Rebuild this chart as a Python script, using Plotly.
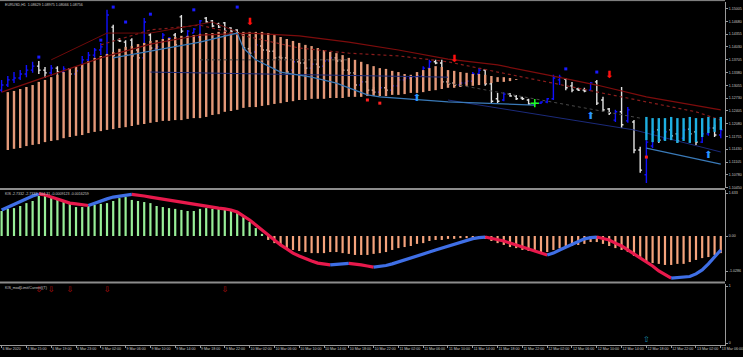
import plotly.graph_objects as go

W, H = 743, 357

# ---------------- data ----------------
bars = list(range(117))
opens = [1.1293,1.1306,1.1319,1.1324,1.1334,1.1344,1.1354,1.1344,1.1337,1.1349,
         1.1339,1.1347,1.1334,1.1349,1.1370,1.1382,1.1395,1.1382,1.1453,1.1420,
         1.1415,1.1420,1.1395,1.1375,1.1433,1.1398,1.1415,1.1418,1.1433,1.1479,
         1.1428,1.1438,1.1428,1.1476,1.1469,1.1461,1.1464,1.1451,1.1446,1.1436,
         1.1398,1.1390,1.1405,1.1395,1.1392,1.1377,1.1375,1.1344,1.1365,1.1362,
         1.1349,1.1359,1.1354,1.1367,1.1375,1.1367,1.1344,1.1337,1.1306,1.1314,
         1.1293,1.1288,1.1299,1.1293,1.1304,1.1319,1.1324,1.1326,1.1329,1.1349,
         1.1365,1.1362,1.1314,1.1311,1.1306,1.1311,1.1316,1.1334,1.1344,1.1309,
         1.1271,1.1268,1.1283,1.1278,1.1273,1.1268,1.1258,1.1260,1.1263,1.1271,
         1.1319,1.1321,1.1304,1.1296,1.1293,1.1293,1.1314,1.1268,1.1245,1.1217,
         1.1238,1.1215,1.1212,1.1141,1.1078,1.1151,1.1192,1.1169,1.1192,1.1182,
         1.1171,1.1194,1.1187,1.1161,1.1182,1.1197,1.1179]
highs = [1.1319,1.1329,1.1339,1.1344,1.1357,1.1365,1.1367,1.1352,1.1357,1.1354,
         1.1354,1.1349,1.1349,1.1380,1.1390,1.1400,1.1413,1.1497,1.1459,1.1425,
         1.1420,1.1425,1.1403,1.1476,1.1438,1.1405,1.1438,1.1428,1.1438,1.1484,
         1.1446,1.1451,1.1471,1.1479,1.1471,1.1464,1.1466,1.1453,1.1448,1.1438,
         1.1403,1.1410,1.1413,1.1400,1.1398,1.1382,1.1380,1.1370,1.1370,1.1365,
         1.1362,1.1365,1.1370,1.1377,1.1377,1.1370,1.1347,1.1339,1.1319,1.1316,
         1.1301,1.1304,1.1304,1.1306,1.1324,1.1326,1.1329,1.1332,1.1354,1.1370,
         1.1370,1.1370,1.1319,1.1316,1.1314,1.1319,1.1339,1.1349,1.1347,1.1311,
         1.1286,1.1288,1.1286,1.1281,1.1276,1.1271,1.1263,1.1265,1.1273,1.1332,
         1.1332,1.1324,1.1314,1.1299,1.1299,1.1314,1.1319,1.1276,1.1248,1.1243,
         1.1301,1.1250,1.1217,1.1149,1.1166,1.1197,1.1197,1.1192,1.1197,1.1184,
         1.1197,1.1197,1.1192,1.1187,1.1205,1.1205,1.1197]
lows = [1.1288,1.1301,1.1311,1.1319,1.1326,1.1337,1.1334,1.1324,1.1329,1.1332,
        1.1334,1.1326,1.1329,1.1344,1.1367,1.1375,1.1382,1.1370,1.1370,1.1415,
        1.1377,1.1375,1.1370,1.1370,1.1395,1.1395,1.1413,1.1415,1.1403,1.1438,
        1.1425,1.1438,1.1425,1.1464,1.1453,1.1451,1.1441,1.1441,1.1438,1.1395,
        1.1382,1.1387,1.1390,1.1390,1.1372,1.1370,1.1337,1.1342,1.1357,1.1347,
        1.1347,1.1349,1.1352,1.1365,1.1365,1.1342,1.1334,1.1301,1.1304,1.1288,
        1.1283,1.1286,1.1291,1.1291,1.1301,1.1314,1.1321,1.1321,1.1326,1.1347,
        1.1359,1.1306,1.1304,1.1304,1.1301,1.1309,1.1314,1.1332,1.1304,1.1260,
        1.1260,1.1265,1.1276,1.1268,1.1268,1.1255,1.1255,1.1258,1.1260,1.1268,
        1.1306,1.1293,1.1288,1.1291,1.1288,1.1293,1.1255,1.1238,1.1230,1.1212,
        1.1197,1.1210,1.1133,1.1083,1.1057,1.1146,1.1159,1.1166,1.1171,1.1159,
        1.1171,1.1179,1.1154,1.1159,1.1177,1.1174,1.1171]
closes = [1.1306,1.1319,1.1324,1.1334,1.1344,1.1354,1.1344,1.1337,1.1349,1.1339,
          1.1347,1.1334,1.1342,1.1370,1.1382,1.1395,1.1403,1.1484,1.1382,1.1418,
          1.1382,1.1380,1.1375,1.1466,1.1400,1.1403,1.1433,1.1425,1.1408,1.1443,
          1.1443,1.1448,1.1469,1.1466,1.1456,1.1453,1.1443,1.1443,1.1438,1.1400,
          1.1387,1.1408,1.1395,1.1392,1.1375,1.1375,1.1339,1.1365,1.1362,1.1349,
          1.1359,1.1352,1.1367,1.1375,1.1367,1.1344,1.1337,1.1306,1.1314,1.1293,
          1.1288,1.1299,1.1293,1.1304,1.1319,1.1324,1.1326,1.1329,1.1349,1.1365,
          1.1362,1.1314,1.1309,1.1306,1.1311,1.1316,1.1334,1.1344,1.1309,1.1265,
          1.1265,1.1283,1.1278,1.1271,1.1271,1.1258,1.1260,1.1263,1.1271,1.1324,
          1.1326,1.1299,1.1293,1.1293,1.1291,1.1311,1.1260,1.1243,1.1235,1.1238,
          1.1205,1.1243,1.1141,1.1090,1.1161,1.1187,1.1166,1.1187,1.1177,1.1164,
          1.1192,1.1182,1.1161,1.1182,1.1197,1.1179,1.1192]

# salmon histogram between two averages (bars 1..83)
hist_bars = list(range(1, 84))
hist_top = [1.1288,1.1291,1.1296,1.1301,1.1306,1.1314,1.1319,1.1326,1.1332,1.1339,
            1.1347,1.1352,1.1359,1.1367,1.1375,1.1380,1.1385,1.1390,1.1398,1.1403,
            1.1405,1.1410,1.1413,1.1418,1.1420,1.1423,1.1425,1.1428,1.1431,1.1431,
            1.1433,1.1436,1.1438,1.1438,1.1441,1.1441,1.1441,1.1441,1.1441,1.1441,
            1.1441,1.1441,1.1438,1.1433,1.1428,1.1423,1.1418,1.1413,1.1408,1.1405,
            1.1400,1.1395,1.1390,1.1387,1.1382,1.1375,1.1370,1.1365,1.1359,1.1354,
            1.1349,1.1347,1.1342,1.1339,1.1334,1.1332,1.1339,1.1344,1.1349,1.1354,
            1.1352,1.1344,1.1342,1.1339,1.1337,1.1334,1.1334,1.1332,1.1329,1.1326,
            1.1326,1.1324,1.1321]
hist_bot = [1.1141,1.1144,1.1146,1.1151,1.1154,1.1156,1.1161,1.1164,1.1166,1.1171,
            1.1174,1.1177,1.1179,1.1184,1.1187,1.1189,1.1192,1.1194,1.1197,1.1199,
            1.1202,1.1205,1.1207,1.1210,1.1212,1.1215,1.1215,1.1217,1.1217,1.1220,
            1.1222,1.1222,1.1225,1.1230,1.1232,1.1238,1.1240,1.1243,1.1248,1.1250,
            1.1250,1.1253,1.1255,1.1258,1.1260,1.1263,1.1265,1.1268,1.1268,1.1271,
            1.1271,1.1271,1.1273,1.1273,1.1273,1.1276,1.1276,1.1276,1.1278,1.1278,
            1.1278,1.1278,1.1281,1.1281,1.1283,1.1286,1.1286,1.1288,1.1291,1.1293,
            1.1296,1.1299,1.1299,1.1301,1.1304,1.1304,1.1306,1.1309,1.1311,1.1314,
            1.1314,1.1316,1.1319]

cyan_bars = list(range(104, 117))
cyan_top = [1.1225,1.1222,1.1222,1.1222,1.1225,1.1222,1.1222,1.1225,1.1222,1.1222,1.1225,1.1222,1.1225]
cyan_bot = [1.1166,1.1161,1.1161,1.1164,1.1166,1.1159,1.1164,1.1159,1.1161,1.1174,1.1184,1.1187,1.1192]

red_ma_bars = [0,8,16,24,32,40,48,56,64,72,80,88,96,104,112,116]
red_ma_vals = [1.1288,1.1332,1.1375,1.1410,1.1433,1.1438,1.1431,1.1415,1.1395,1.1372,
               1.1357,1.1332,1.1306,1.1276,1.1255,1.1243]
red_dot_bars = [16,24,32,40,48,56,64,72,80,88,96,104,112,116]
red_dot_vals = [1.1408,1.1446,1.1458,1.1428,1.1400,1.1387,1.1380,1.1365,1.1339,1.1314,
                1.1288,1.1263,1.1238,1.1217]
zigzag_bars = [8,17,24,34,38]
zigzag_vals = [1.1370,1.1438,1.1438,1.1466,1.1441]
blue_line_bars = [18,32,38,39,41,45,50,54,59,61,72,86,None,104,116]
blue_line_vals = [1.1375,1.1415,1.1438,1.1400,1.1370,1.1339,1.1326,1.1311,1.1281,1.1276,
                  1.1263,1.1255,None,1.1146,1.1105]
navy_bars = [24,72,None,72,102,116]
navy_vals = [1.1339,1.1326,None,1.1268,1.1192,1.1136]
gray_bars = [32,56,None,72,103]
gray_vals = [1.1370,1.1370,None,1.1311,1.1222]

sell_bars = [40,73,98]
sell_vals = [1.1464,1.1372,1.1329]
buy_bars = [67,95,114]
buy_vals = [1.1273,1.1227,1.1126]
dot_bars = [6,16,18,20,24,31,38,91,96]
dot_vals = [1.1377,1.1420,1.1504,1.1466,1.1486,1.1497,1.1504,1.1347,1.1339]
reddot_bars = [59,61,104]
reddot_vals = [1.1268,1.1260,1.1123]
plus_bars = [86]
plus_vals = [1.1260]

# KIS oscillator
kis_hist = [0.95,1.03,1.06,1.14,1.25,1.33,1.52,1.56,1.48,1.41,
            1.33,1.29,1.10,1.10,1.14,1.18,1.22,1.25,1.33,1.44,
            1.48,1.37,1.33,1.29,1.25,1.14,1.10,1.06,1.03,0.99,
            0.95,0.95,1.03,1.06,1.03,1.03,1.03,0.99,0.87,0.72,
            0.53,0.30,0.08,-0.15,-0.27,-0.38,-0.46,-0.53,-0.57,-0.61,
            -0.65,-0.65,-0.65,-0.61,-0.61,-0.65,-0.68,-0.72,-0.72,-0.72,
            -0.68,-0.65,-0.61,-0.53,-0.46,-0.42,-0.38,-0.30,-0.27,-0.19,
            -0.15,-0.15,-0.11,-0.11,-0.08,-0.08,-0.08,-0.08,-0.11,-0.19,
            -0.27,-0.34,-0.42,-0.46,-0.53,-0.57,-0.61,-0.65,-0.61,-0.53,
            -0.46,-0.42,-0.38,-0.34,-0.30,-0.23,-0.23,-0.30,-0.38,-0.46,
            -0.53,-0.61,-0.76,-0.87,-0.99,-1.03,-1.06,-1.10,-1.10,-1.06,
            -1.06,-0.99,-0.91,-0.84,-0.80,-0.72,-0.65]
kis_line = [0.99,1.10,1.22,1.33,1.44,1.52,1.60,1.56,1.48,1.41,
            1.33,1.25,1.22,1.18,1.16,1.25,1.33,1.41,1.48,1.52,
            1.56,1.58,1.56,1.52,1.48,1.44,1.41,1.37,1.33,1.29,
            1.25,1.22,1.18,1.14,1.10,1.06,1.03,0.99,0.91,0.76,
            0.61,0.42,0.23,0.04,-0.15,-0.34,-0.49,-0.65,-0.76,-0.87,
            -0.95,-1.03,-1.06,-1.10,-1.08,-1.06,-1.04,-1.06,-1.10,-1.14,
            -1.18,-1.16,-1.12,-1.06,-0.99,-0.91,-0.84,-0.76,-0.68,-0.61,
            -0.53,-0.46,-0.38,-0.30,-0.23,-0.15,-0.10,-0.06,-0.04,-0.08,
            -0.13,-0.19,-0.27,-0.34,-0.42,-0.49,-0.57,-0.65,-0.72,-0.65,
            -0.53,-0.42,-0.30,-0.19,-0.11,-0.06,-0.04,-0.08,-0.15,-0.27,
            -0.38,-0.53,-0.68,-0.84,-0.99,-1.14,-1.33,-1.48,-1.60,-1.58,
            -1.57,-1.54,-1.44,-1.29,-1.06,-0.80,-0.53]

mod_down_bars = [6,8,11,17,36]
mod_down_vals = [0.93,0.93,0.93,0.93,0.93]
mod_up_bars = [104]
mod_up_vals = [0.05]

price_ticks = [1.15005,1.14680,1.14355,1.14030,1.13705,1.13380,1.13055,1.12730,
               1.12405,1.12080,1.11755,1.11430,1.11105,1.10780,1.10450]
price_labels = ["1.15005","1.14680","1.14355","1.14030","1.13705","1.13380","1.13055",
                "1.12730","1.12405","1.12080","1.11755","1.11430","1.11105","1.10780","1.10450"]
kis_tickvals = [1.633, 0.0, -1.33]
kis_ticktext = ["1.633", "0.00", "-1.0286"]
time_label_bars = list(range(0, 117, 4))
time_labels = ["6 Mar 2020","6 Mar 15:00","6 Mar 19:00","6 Mar 23:00","9 Mar 02:00",
               "9 Mar 06:00","9 Mar 10:00","9 Mar 14:00","9 Mar 18:00","9 Mar 22:00",
               "10 Mar 02:00","10 Mar 06:00","10 Mar 10:00","10 Mar 14:00","10 Mar 18:00",
               "10 Mar 22:00","11 Mar 02:00","11 Mar 06:00","11 Mar 10:00","11 Mar 14:00",
               "11 Mar 18:00","11 Mar 22:00","12 Mar 02:00","12 Mar 06:00","12 Mar 10:00",
               "12 Mar 14:00","12 Mar 18:00","12 Mar 22:00","13 Mar 02:00","13 Mar 06:00"]

# ---------------- helpers ----------------
def segs(xs, a, b):
    X, Y = [], []
    for x, p, q in zip(xs, a, b):
        X += [x, x, None]
        Y += [p, q, None]
    return X, Y

def py(px):  # paper fraction from pixel row
    return 1 - px / H

AX_X = 725 / W
TXT = "#c8c8c8"
AXC = "#9a9a9a"
FONT = "Liberation Sans"

fig = go.Figure()

# main panel
X, Y = segs(hist_bars, hist_top, hist_bot)
fig.add_trace(go.Scatter(x=X, y=Y, mode="lines", line=dict(color="#e39878", width=2.4),
                         hoverinfo="skip", xaxis="x", yaxis="y"))
for bx, by, col, dash, wd in [
        (red_ma_bars, red_ma_vals, "#7d0c0c", "solid", 1.2),
        (red_dot_bars, red_dot_vals, "#8a1c1c", "dot", 1.2),
        (zigzag_bars, zigzag_vals, "#6e0a0a", "solid", 1.0),
        (gray_bars, gray_vals, "#4a4a4a", "dot", 1.0),
        (navy_bars, navy_vals, "#1b2a7a", "solid", 1.0),
        (blue_line_bars, blue_line_vals, "#3a7ab8", "solid", 1.2)]:
    fig.add_trace(go.Scatter(x=bx, y=by, mode="lines", line=dict(color=col, width=wd, dash=dash),
                             connectgaps=False, hoverinfo="skip", xaxis="x", yaxis="y"))

fig.add_trace(go.Ohlc(x=bars, open=opens, high=highs, low=lows, close=closes,
                      increasing=dict(line=dict(color="#1010ff", width=1.4)),
                      decreasing=dict(line=dict(color="#e2e2e2", width=1.4)),
                      tickwidth=0.3, hoverinfo="skip", xaxis="x", yaxis="y"))

X, Y = segs(cyan_bars, cyan_top, cyan_bot)
fig.add_trace(go.Scatter(x=X, y=Y, mode="lines", line=dict(color="#1eb0e2", width=2.4),
                         hoverinfo="skip", xaxis="x", yaxis="y"))

fig.add_trace(go.Scatter(x=dot_bars, y=dot_vals, mode="markers",
                         marker=dict(color="#1a1aff", size=3, symbol="square"),
                         hoverinfo="skip", xaxis="x", yaxis="y"))
fig.add_trace(go.Scatter(x=reddot_bars, y=reddot_vals, mode="markers",
                         marker=dict(color="#ff2020", size=3, symbol="square"),
                         hoverinfo="skip", xaxis="x", yaxis="y"))
fig.add_trace(go.Scatter(x=plus_bars, y=plus_vals, mode="markers",
                         marker=dict(color="#20ff20", size=6, symbol="cross-thin",
                                     line=dict(color="#20ff20", width=1.5)),
                         hoverinfo="skip", xaxis="x", yaxis="y"))
fig.add_trace(go.Scatter(x=sell_bars, y=sell_vals, mode="text", text=["⬇"] * len(sell_bars),
                         textfont=dict(color="#ff1010", size=10, family="DejaVu Sans"),
                         hoverinfo="skip", xaxis="x", yaxis="y"))
fig.add_trace(go.Scatter(x=buy_bars, y=buy_vals, mode="text", text=["⬆"] * len(buy_bars),
                         textfont=dict(color="#2a95ff", size=10, family="DejaVu Sans"),
                         hoverinfo="skip", xaxis="x", yaxis="y"))

# KIS panel
pos = [(b, v) for b, v in zip(bars, kis_hist) if v >= 0]
neg = [(b, v) for b, v in zip(bars, kis_hist) if v < 0]
X, Y = segs([p[0] for p in pos], [0] * len(pos), [p[1] for p in pos])
fig.add_trace(go.Scatter(x=X, y=Y, mode="lines", line=dict(color="#98ee98", width=2.2),
                         hoverinfo="skip", xaxis="x2", yaxis="y2"))
X, Y = segs([p[0] for p in neg], [0] * len(neg), [p[1] for p in neg])
fig.add_trace(go.Scatter(x=X, y=Y, mode="lines", line=dict(color="#f4a37c", width=2.2),
                         hoverinfo="skip", xaxis="x2", yaxis="y2"))

# slope-coloured thick line
runs = []
for i in range(1, len(kis_line)):
    up = kis_line[i] >= kis_line[i - 1]
    if runs and runs[-1][0] == up:
        runs[-1][1].append(i)
    else:
        runs.append([up, [i - 1, i]])
for up, idx in runs:
    fig.add_trace(go.Scatter(x=[bars[i] for i in idx], y=[kis_line[i] for i in idx], mode="lines",
                             line=dict(color="#3f6fe6" if up else "#e8194c", width=3.2),
                             hoverinfo="skip", xaxis="x2", yaxis="y2"))

# KIS_mod panel
fig.add_trace(go.Scatter(x=mod_down_bars, y=mod_down_vals, mode="text",
                         text=["⇩"] * len(mod_down_bars),
                         textfont=dict(color="#c01010", size=8, family="DejaVu Sans"),
                         hoverinfo="skip", xaxis="x3", yaxis="y3"))
fig.add_trace(go.Scatter(x=mod_up_bars, y=mod_up_vals, mode="text",
                         text=["⇧"] * len(mod_up_bars),
                         textfont=dict(color="#1a8fb0", size=8, family="DejaVu Sans"),
                         hoverinfo="skip", xaxis="x3", yaxis="y3"))

# ---------------- layout ----------------
xr = [-0.26, 116.68]
xcommon = dict(range=xr, domain=[0, AX_X], showgrid=False, zeroline=False, showticklabels=False,
               ticks="", showline=False, fixedrange=True, automargin=False)
ycommon = dict(side="right", showgrid=False, zeroline=False, showline=True, linecolor=AXC,
               linewidth=1, ticks="outside", ticklen=2, tickcolor=AXC, automargin=False,
               tickfont=dict(size=3.6, color=TXT, family=FONT), tickmode="array")

fig.update_layout(
    width=W, height=H, margin=dict(l=0, r=0, t=0, b=0, autoexpand=False),
    paper_bgcolor="black", plot_bgcolor="black", showlegend=False,
    xaxis=dict(**xcommon, anchor="y", rangeslider=dict(visible=False)),
    xaxis2=dict(**xcommon, anchor="y2", matches="x"),
    xaxis3=dict(range=xr, domain=[0, AX_X], showgrid=False, zeroline=False, anchor="y3",
                matches="x", showline=True, linecolor=AXC, linewidth=1, automargin=False,
                tickmode="array", tickvals=time_label_bars, ticktext=time_labels,
                ticks="outside", ticklen=2, tickcolor=AXC, tickangle=0,
                ticklabelposition="outside right",
                tickfont=dict(size=3.6, color=TXT, family=FONT)),
    yaxis=dict(**ycommon, domain=[py(188), py(2)], range=[1.10445, 1.15169], anchor="x",
               tickvals=price_ticks, ticktext=price_labels),
    yaxis2=dict(**ycommon, domain=[py(281), py(190)], range=[-1.71, 1.748], anchor="x2",
                tickvals=kis_tickvals, ticktext=kis_ticktext),
    yaxis3=dict(**ycommon, domain=[py(345), py(284)], range=[-0.035, 1.035], anchor="x3",
                tickvals=[1, 0], ticktext=["1", "0"]),
)

# panel borders / separators
for yy, wd in [(0.6, 1), (189, 2), (282.5, 2)]:
    fig.add_shape(type="line", xref="paper", yref="paper", x0=0, x1=AX_X, y0=py(yy), y1=py(yy),
                  line=dict(color="#8c8c8c", width=wd))

# panel captions
for txt, yy in [("EURUSD,H1  1.08629 1.08975 1.08066 1.08756", 5),
                ("KIS -2.7332 -2.7332 -104.31 -0.0009123 -0.0016259", 194),
                ("KIS_mod[Limit/Current](T)", 288)]:
    fig.add_annotation(text=txt, xref="paper", yref="paper", x=3 / W, y=py(yy),
                       xanchor="left", yanchor="middle", showarrow=False,
                       font=dict(size=3.6, color=TXT, family=FONT))

fig.write_html("out.html")
